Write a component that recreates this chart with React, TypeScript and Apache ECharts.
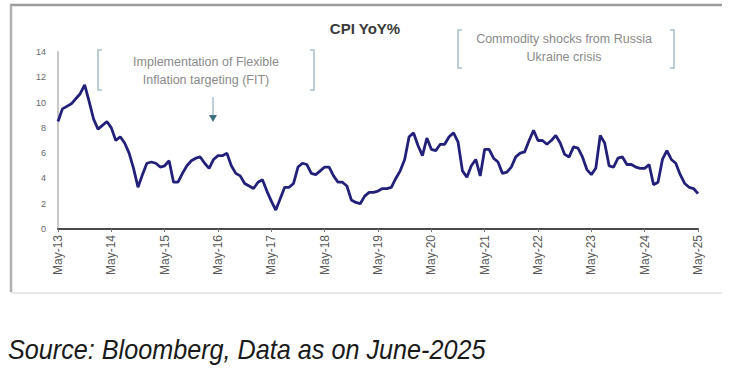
import React, { useEffect, useRef } from "react";
import * as echarts from "echarts";

const monthNames = ["Jan", "Feb", "Mar", "Apr", "May", "Jun", "Jul", "Aug", "Sep", "Oct", "Nov", "Dec"];
const startYear = 2013;
const startMonth = 4; // May

const cpi2013 = [8.5, 9.5, 9.7, 9.9, 10.3, 10.7, 11.4, 10.1];
const cpi2014 = [8.7, 7.9, 8.2, 8.5, 8.0, 7.0, 7.3, 6.8, 6.0, 4.8, 3.3, 4.3];
const cpi2015 = [5.2, 5.3, 5.2, 4.9, 5.0, 5.4, 3.7, 3.7, 4.4, 5.0, 5.4, 5.6];
const cpi2016 = [5.7, 5.2, 4.8, 5.5, 5.8, 5.8, 6.0, 5.0, 4.4, 4.2, 3.6, 3.4];
const cpi2017 = [3.2, 3.7, 3.9, 3.0, 2.2, 1.5, 2.4, 3.3, 3.3, 3.6, 4.9, 5.2];
const cpi2018 = [5.1, 4.4, 4.3, 4.6, 4.9, 4.9, 4.2, 3.7, 3.7, 3.4, 2.3, 2.1];
const cpi2019 = [2.0, 2.6, 2.9, 2.9, 3.0, 3.2, 3.2, 3.3, 4.0, 4.6, 5.5, 7.3];
const cpi2020 = [7.6, 6.6, 5.8, 7.2, 6.3, 6.2, 6.7, 6.7, 7.3, 7.6, 6.9, 4.6];
const cpi2021 = [4.1, 5.0, 5.5, 4.2, 6.3, 6.3, 5.6, 5.3, 4.4, 4.5, 4.9, 5.7];
const cpi2022 = [6.0, 6.1, 7.0, 7.8, 7.0, 7.0, 6.7, 7.0, 7.4, 6.8, 5.9, 5.7];
const cpi2023 = [6.5, 6.4, 5.7, 4.7, 4.3, 4.8, 7.4, 6.8, 5.0, 4.9, 5.6, 5.7];
const cpi2024 = [5.1, 5.1, 4.9, 4.8, 4.8, 5.1, 3.5, 3.7, 5.5, 6.2, 5.5, 5.2];
const cpi2025 = [4.3, 3.6, 3.3, 3.2, 2.8];

const cpiValues = [
  ...cpi2013, ...cpi2014, ...cpi2015, ...cpi2016, ...cpi2017, ...cpi2018, ...cpi2019,
  ...cpi2020, ...cpi2021, ...cpi2022, ...cpi2023, ...cpi2024, ...cpi2025,
];

const categories = cpiValues.map((_, i) => {
  const m = startMonth + i;
  const y = startYear + Math.floor(m / 12);
  return monthNames[m % 12] + "-" + String(y % 100).padStart(2, "0");
});

const yTicks = { min: 0, max: 14, interval: 2 };

const titleText = "CPI YoY%";
const note1 = "Implementation of Flexible\nInflation targeting (FIT)";
const note2 = "Commodity shocks from Russia\nUkraine crisis";
const sourceText = "Source: Bloomberg, Data as on June-2025";

function bracket(x0: number, x1: number, y0: number, y1: number, color: string) {
  const t = 4;
  return [
    { type: "polyline", shape: { points: [[x0 + t, y0], [x0, y0], [x0, y1], [x0 + t, y1]] }, style: { stroke: color, lineWidth: 1.5, fill: null } },
    { type: "polyline", shape: { points: [[x1 - t, y0], [x1, y0], [x1, y1], [x1 - t, y1]] }, style: { stroke: color, lineWidth: 1.5, fill: null } },
  ];
}

export default function App() {
  const ref = useRef<HTMLDivElement>(null);
  useEffect(() => {
    if (!ref.current) return;
    const chart = echarts.init(ref.current, null, { renderer: "svg" });
    const bColor = "#a9bfcb";
    const noteFont = "'Liberation Sans', Arial, sans-serif";
    chart.setOption({
      animation: false,
      backgroundColor: "#ffffff",
      grid: { left: 58, right: 33, top: 52, bottom: 147, containLabel: false },
      xAxis: {
        type: "category",
        data: categories,
        boundaryGap: false,
        axisLine: { lineStyle: { color: "#4a4a4a", width: 2 } },
        axisTick: { show: true, interval: (i: number) => i % 12 === 0, length: 3, lineStyle: { color: "#777" } },
        axisLabel: {
          interval: (i: number) => i % 12 === 0,
          rotate: 90,
          margin: 6,
          fontSize: 12,
          color: "#5a5a5a",
          fontFamily: noteFont,
        },
        splitLine: { show: false },
      },
      yAxis: {
        type: "value",
        min: yTicks.min,
        max: yTicks.max,
        interval: yTicks.interval,
        axisLine: { show: true, lineStyle: { color: "#c8c8c8", width: 2 } },
        axisTick: { show: false },
        axisLabel: { fontSize: 9, color: "#666", margin: 12, fontFamily: noteFont },
        splitLine: { show: false },
      },
      series: [
        {
          type: "line",
          data: cpiValues,
          showSymbol: false,
          symbol: "none",
          lineStyle: { color: "#23207a", width: 2.8 },
        },
      ],
      graphic: [
        // frame
        { type: "line", shape: { x1: 10, y1: 5, x2: 722, y2: 5 }, style: { stroke: "#9a9a9a", lineWidth: 2.5 } },
        { type: "line", shape: { x1: 11, y1: 5, x2: 11, y2: 292 }, style: { stroke: "#b0b0b0", lineWidth: 2.5 } },
        { type: "line", shape: { x1: 11, y1: 293, x2: 722, y2: 293 }, style: { stroke: "#e2e2e2", lineWidth: 1.5 } },
        // title
        {
          type: "text", x: 365, y: 28,
          style: { text: titleText, fontSize: 15, fontWeight: "bold", fill: "#3a3a3a", align: "center", verticalAlign: "middle", fontFamily: noteFont },
        },
        // annotation 1
        ...bracket(98, 314, 50, 90, bColor),
        {
          type: "text", x: 206, y: 71,
          style: { text: note1, fontSize: 12.5, lineHeight: 18, fill: "#8a8a8a", align: "center", verticalAlign: "middle", fontFamily: noteFont },
        },
        { type: "line", shape: { x1: 213, y1: 97, x2: 213, y2: 116 }, style: { stroke: "#a9bfcb", lineWidth: 1.5 } },
        { type: "polygon", shape: { points: [[209, 115], [217, 115], [213, 122]] }, style: { fill: "#3f6f80" } },
        // annotation 2
        ...bracket(458, 674, 30, 68, bColor),
        {
          type: "text", x: 564, y: 48,
          style: { text: note2, fontSize: 12.5, lineHeight: 18, fill: "#8a8a8a", align: "center", verticalAlign: "middle", fontFamily: noteFont },
        },
        // source
        {
          type: "text", x: 8, y: 350, scaleX: 0.9,
          style: {
            text: sourceText, fontSize: 28, fontStyle: "italic", fill: "#1a1a1a",
            align: "left", verticalAlign: "middle", fontFamily: "'Liberation Sans', sans-serif",
          },
        },
      ],
    });
    return () => chart.dispose();
  }, []);
  return (
    <div style={{ position: "absolute", left: 0, top: 0, width: 731, height: 376, background: "#fff" }}>
      <div ref={ref} style={{ width: 731, height: 376 }} />
    </div>
  );
}
